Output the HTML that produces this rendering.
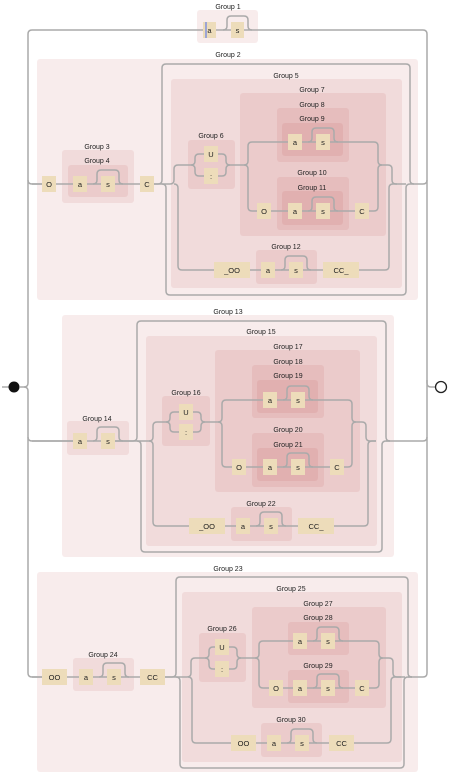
<!DOCTYPE html>
<html><head><meta charset="utf-8"><style>
html,body{margin:0;padding:0;background:#fff;width:451px;height:772px;overflow:hidden}
svg{display:block}
.g{fill:rgba(190,70,70,0.1)}
.l{fill:#222;font-family:"Liberation Sans",sans-serif;font-size:7px;text-anchor:middle}
.n{fill:#eddcba}
.t{fill:#222;font-family:"Liberation Sans",sans-serif;font-size:7.5px;text-anchor:middle}
path,line{fill:none;stroke:#aaa;stroke-width:1.5}
</style></head><body>
<svg width="451" height="772" viewBox="0 0 451 772" xmlns="http://www.w3.org/2000/svg">
<rect class="g" x="197" y="10" width="61" height="33" rx="3"/>
<rect class="g" x="37" y="59" width="381" height="241" rx="3"/>
<rect class="g" x="62" y="150" width="72" height="53" rx="3"/>
<rect class="g" x="68" y="165" width="60" height="32" rx="3"/>
<rect class="g" x="171" y="79" width="231" height="209" rx="3"/>
<rect class="g" x="188" y="140" width="47" height="49" rx="3"/>
<rect class="g" x="240" y="93" width="146" height="143" rx="3"/>
<rect class="g" x="277" y="108" width="72" height="54" rx="3"/>
<rect class="g" x="282" y="123" width="61" height="33" rx="3"/>
<rect class="g" x="277" y="177" width="72" height="53" rx="3"/>
<rect class="g" x="282" y="191" width="61" height="34" rx="3"/>
<rect class="g" x="256" y="250" width="61" height="34" rx="3"/>

<rect class="g" x="62" y="315" width="332" height="242" rx="3"/>
<rect class="g" x="67" y="421" width="62" height="34" rx="3"/>
<rect class="g" x="146" y="336" width="231" height="210" rx="3"/>
<rect class="g" x="162" y="396" width="48" height="50" rx="3"/>
<rect class="g" x="215" y="350" width="145" height="142" rx="3"/>
<rect class="g" x="252" y="365" width="72" height="53" rx="3"/>
<rect class="g" x="257" y="380" width="61" height="33" rx="3"/>
<rect class="g" x="252" y="433" width="72" height="54" rx="3"/>
<rect class="g" x="257" y="448" width="61" height="33" rx="3"/>
<rect class="g" x="231" y="507" width="61" height="34" rx="3"/>

<rect class="g" x="37" y="572" width="381" height="200" rx="3"/>
<rect class="g" x="73" y="658" width="61" height="33" rx="3"/>
<rect class="g" x="182" y="592" width="220" height="170" rx="3"/>
<rect class="g" x="199" y="633" width="47" height="49" rx="3"/>
<rect class="g" x="252" y="607" width="134" height="101" rx="3"/>
<rect class="g" x="288" y="622" width="61" height="33" rx="3"/>
<rect class="g" x="288" y="670" width="61" height="33" rx="3"/>
<rect class="g" x="261" y="723" width="61" height="34" rx="3"/>

<text class="l" x="228" y="9">Group 1</text>
<text class="l" x="228" y="57">Group 2</text>
<text class="l" x="97" y="149">Group 3</text>
<text class="l" x="97" y="163">Group 4</text>
<text class="l" x="286" y="78">Group 5</text>
<text class="l" x="211" y="138">Group 6</text>
<text class="l" x="312" y="92">Group 7</text>
<text class="l" x="312" y="107">Group 8</text>
<text class="l" x="312" y="121">Group 9</text>
<text class="l" x="312" y="175">Group 10</text>
<text class="l" x="312" y="190">Group 11</text>
<text class="l" x="286" y="249">Group 12</text>
<text class="l" x="228" y="314">Group 13</text>
<text class="l" x="97" y="421">Group 14</text>
<text class="l" x="261" y="334">Group 15</text>
<text class="l" x="186" y="395">Group 16</text>
<text class="l" x="288" y="349">Group 17</text>
<text class="l" x="288" y="364">Group 18</text>
<text class="l" x="288" y="378">Group 19</text>
<text class="l" x="288" y="432">Group 20</text>
<text class="l" x="288" y="447">Group 21</text>
<text class="l" x="261" y="506">Group 22</text>
<text class="l" x="228" y="571">Group 23</text>
<text class="l" x="103" y="657">Group 24</text>
<text class="l" x="291" y="591">Group 25</text>
<text class="l" x="222" y="631">Group 26</text>
<text class="l" x="318" y="606">Group 27</text>
<text class="l" x="318" y="620">Group 28</text>
<text class="l" x="318" y="668">Group 29</text>
<text class="l" x="291" y="722">Group 30</text>

<path d="M20,387 h4 q4 0 4-4 V34 q0-4 4-4 H423 q4 0 4 4 V383 q0 4 4 4 h4"/>
<path d="M427,380 V673"/>
<path d="M24,387 q4 0 4 4 V673 q0 4 4 4 h10"/>
<path d="M28,180 q0 4 4 4 h10"/>
<path d="M28,437 q0 4 4 4 h41"/>
<path d="M414,184 h9 q4 0 4-4"/>
<path d="M386,441 h37 q4 0 4-4"/>
<path d="M408,677 h15 q4 0 4-4"/>
<path d="M223,30 q4 0 4-4 v-6 q0-4 4-4 h13 q4 0 4 4 v6 q0 4 4 4"/>

<line x1="32" y1="184" x2="166" y2="184"/>
<path d="M93,184 q4 0 4-4 v-6 q0-4 4-4 h14 q4 0 4 4 v6 q0 4 4 4"/>
<path d="M154,184 h4 q4 0 4-4 V68 q0-4 4-4 H406 q4 0 4 4 V180 q0 4 4 4"/>
<path d="M162,184 q4 0 4 4 V291 q0 4 4 4 H402 q4 0 4-4 V188 q0-4 4-4 h4"/>
<path d="M166,184 h4 q4 0 4-4 v-11 q0-4 4-4 h13"/>
<path d="M174,184 q4 0 4 4 V266 q0 4 4 4 H359 h26 q4 0 4-4 V188 q0-4 4-4 h4"/>
<path d="M191,165 q4 0 4-4 v-3 q0-4 4-4 h19 h4 q4 0 4 4 v3 q0 4 4 4"/>
<path d="M191,165 q4 0 4 4 v3 q0 4 4 4 h19 h4 q4 0 4-4 v-3 q0-4 4-4 h14"/>
<path d="M244,165 q4 0 4-4 V146 q0-4 4-4 H374 q4 0 4 4 v15 q0 4 4 4 h6 q4 0 4 4 v11 q0 4 4 4 h10"/>
<path d="M244,165 q4 0 4 4 V207 q0 4 4 4 H374 q4 0 4-4 V169 q0-4 4-4"/>
<path d="M308,142 q4 0 4-4 v-6 q0-4 4-4 h14 q4 0 4 4 v6 q0 4 4 4"/>
<path d="M308,211 q4 0 4-4 v-6 q0-4 4-4 h14 q4 0 4 4 v6 q0 4 4 4"/>
<path d="M281,270 q4 0 4-4 v-6 q0-4 4-4 h14 q4 0 4 4 v6 q0 4 4 4"/>

<line x1="32" y1="441" x2="141" y2="441"/>
<path d="M93,441 q4 0 4-4 v-6 q0-4 4-4 h14 q4 0 4 4 v6 q0 4 4 4"/>
<path d="M115,441 h18 q4 0 4-4 V325 q0-4 4-4 H382 q4 0 4 4 V437 q0 4 4 4"/>
<path d="M137,441 q4 0 4 4 V548 q0 4 4 4 H378 q4 0 4-4 V445 q0-4 4-4 h4"/>
<path d="M141,441 h8 q4 0 4-4 v-11 q0-4 4-4 h9"/>
<path d="M149,441 q4 0 4 4 V522 q0 4 4 4 H364 q4 0 4-4 V445 q0-4 4-4 h4"/>
<path d="M166,422 q4 0 4-4 v-2 q0-4 4-4 h19 h4 q4 0 4 4 v2 q0 4 4 4"/>
<path d="M166,422 q4 0 4 4 v2 q0 4 4 4 h19 h4 q4 0 4-4 v-2 q0-4 4-4 h13"/>
<path d="M218,422 q4 0 4-4 V404 q0-4 4-4 H348 q4 0 4 4 v14 q0 4 4 4 h6 q4 0 4 4 v11 q0 4 4 4 h6"/>
<path d="M218,422 q4 0 4 4 V463 q0 4 4 4 H348 q4 0 4-4 V426 q0-4 4-4"/>
<path d="M283,400 q4 0 4-4 v-6 q0-4 4-4 h14 q4 0 4 4 v6 q0 4 4 4"/>
<path d="M283,467 q4 0 4-4 v-6 q0-4 4-4 h14 q4 0 4 4 v6 q0 4 4 4"/>
<path d="M256,526 q4 0 4-4 v-6 q0-4 4-4 h14 q4 0 4 4 v6 q0 4 4 4"/>

<line x1="32" y1="677" x2="180" y2="677"/>
<path d="M99,677 q4 0 4-4 v-6 q0-4 4-4 h14 q4 0 4 4 v6 q0 4 4 4"/>
<path d="M165,677 h7 q4 0 4-4 V581 q0-4 4-4 H404 q4 0 4 4 V673 q0 4 4 4"/>
<path d="M176,677 q4 0 4 4 V764 q0 4 4 4 H400 q4 0 4-4 V681 q0-4 4-4 h4"/>
<path d="M180,677 h7 q4 0 4-4 v-11 q0-4 4-4 h10"/>
<path d="M188,677 q4 0 4 4 V739 q0 4 4 4 H387 q4 0 4-4 V681 q0-4 4-4 h6"/>
<path d="M205,658 q4 0 4-4 v-3 q0-4 4-4 h2 h14 h4 q4 0 4 4 v3 q0 4 4 4"/>
<path d="M205,658 q4 0 4 4 v3 q0 4 4 4 h2 h14 h4 q4 0 4-4 v-3 q0-4 4-4 h14"/>
<path d="M255,658 q4 0 4-4 v-9 q0-4 4-4 H375 q4 0 4 4 v9 q0 4 4 4 h6 q4 0 4 4 v11 q0 4 4 4 h8"/>
<path d="M255,658 q4 0 4 4 v22 q0 4 4 4 H375 q4 0 4-4 v-22 q0-4 4-4"/>
<path d="M313,641 q4 0 4-4 v-6 q0-4 4-4 h14 q4 0 4 4 v6 q0 4 4 4"/>
<path d="M313,688 q4 0 4-4 v-6 q0-4 4-4 h14 q4 0 4 4 v6 q0 4 4 4"/>
<path d="M287,743 q4 0 4-4 v-6 q0-4 4-4 h14 q4 0 4 4 v6 q0 4 4 4"/>

<line x1="2" y1="387" x2="10" y2="387"/>
<circle cx="14" cy="387" r="5.5" fill="#111"/>
<circle cx="441" cy="387" r="5.5" fill="#fff" stroke="#222" stroke-width="1.3"/>

<g>
<rect class="n" x="203" y="22" width="13" height="16"/><text class="t" x="209.5" y="33">a</text>
<line x1="206" y1="22" x2="206" y2="38" style="stroke:#4a6cf0;stroke-width:1"/>
<rect class="n" x="231" y="22" width="13" height="16"/><text class="t" x="237.5" y="33">s</text>

<rect class="n" x="42" y="176" width="14" height="16"/><text class="t" x="49" y="187">O</text>
<rect class="n" x="73" y="176" width="14" height="16"/><text class="t" x="80" y="187">a</text>
<rect class="n" x="101" y="176" width="14" height="16"/><text class="t" x="108" y="187">s</text>
<rect class="n" x="140" y="176" width="14" height="16"/><text class="t" x="147" y="187">C</text>
<rect class="n" x="204" y="146" width="14" height="16"/><text class="t" x="211" y="157">U</text>
<rect class="n" x="204" y="168" width="14" height="16"/><text class="t" x="211" y="179">:</text>
<rect class="n" x="288" y="134" width="14" height="16"/><text class="t" x="295" y="145">a</text>
<rect class="n" x="316" y="134" width="14" height="16"/><text class="t" x="323" y="145">s</text>
<rect class="n" x="257" y="203" width="14" height="16"/><text class="t" x="264" y="214">O</text>
<rect class="n" x="288" y="203" width="14" height="16"/><text class="t" x="295" y="214">a</text>
<rect class="n" x="316" y="203" width="14" height="16"/><text class="t" x="323" y="214">s</text>
<rect class="n" x="355" y="203" width="14" height="16"/><text class="t" x="362" y="214">C</text>
<rect class="n" x="214" y="262" width="36" height="16"/><text class="t" x="232" y="273">_OO</text>
<rect class="n" x="261" y="262" width="14" height="16"/><text class="t" x="268" y="273">a</text>
<rect class="n" x="289" y="262" width="14" height="16"/><text class="t" x="296" y="273">s</text>
<rect class="n" x="323" y="262" width="36" height="16"/><text class="t" x="341" y="273">CC_</text>

<rect class="n" x="73" y="433" width="14" height="16"/><text class="t" x="80" y="444">a</text>
<rect class="n" x="101" y="433" width="14" height="16"/><text class="t" x="108" y="444">s</text>
<rect class="n" x="179" y="404" width="14" height="16"/><text class="t" x="186" y="415">U</text>
<rect class="n" x="179" y="424" width="14" height="16"/><text class="t" x="186" y="435">:</text>
<rect class="n" x="263" y="392" width="14" height="16"/><text class="t" x="270" y="403">a</text>
<rect class="n" x="291" y="392" width="14" height="16"/><text class="t" x="298" y="403">s</text>
<rect class="n" x="232" y="459" width="14" height="16"/><text class="t" x="239" y="470">O</text>
<rect class="n" x="263" y="459" width="14" height="16"/><text class="t" x="270" y="470">a</text>
<rect class="n" x="291" y="459" width="14" height="16"/><text class="t" x="298" y="470">s</text>
<rect class="n" x="330" y="459" width="14" height="16"/><text class="t" x="337" y="470">C</text>
<rect class="n" x="189" y="518" width="36" height="16"/><text class="t" x="207" y="529">_OO</text>
<rect class="n" x="236" y="518" width="14" height="16"/><text class="t" x="243" y="529">a</text>
<rect class="n" x="264" y="518" width="14" height="16"/><text class="t" x="271" y="529">s</text>
<rect class="n" x="298" y="518" width="36" height="16"/><text class="t" x="316" y="529">CC_</text>

<rect class="n" x="42" y="669" width="25" height="16"/><text class="t" x="54.5" y="680">OO</text>
<rect class="n" x="79" y="669" width="14" height="16"/><text class="t" x="86" y="680">a</text>
<rect class="n" x="107" y="669" width="14" height="16"/><text class="t" x="114" y="680">s</text>
<rect class="n" x="140" y="669" width="25" height="16"/><text class="t" x="152.5" y="680">CC</text>
<rect class="n" x="215" y="639" width="14" height="16"/><text class="t" x="222" y="650">U</text>
<rect class="n" x="215" y="661" width="14" height="16"/><text class="t" x="222" y="672">:</text>
<rect class="n" x="293" y="633" width="14" height="16"/><text class="t" x="300" y="644">a</text>
<rect class="n" x="321" y="633" width="14" height="16"/><text class="t" x="328" y="644">s</text>
<rect class="n" x="269" y="680" width="14" height="16"/><text class="t" x="276" y="691">O</text>
<rect class="n" x="293" y="680" width="14" height="16"/><text class="t" x="300" y="691">a</text>
<rect class="n" x="321" y="680" width="14" height="16"/><text class="t" x="328" y="691">s</text>
<rect class="n" x="355" y="680" width="14" height="16"/><text class="t" x="362" y="691">C</text>
<rect class="n" x="231" y="735" width="25" height="16"/><text class="t" x="243.5" y="746">OO</text>
<rect class="n" x="267" y="735" width="14" height="16"/><text class="t" x="274" y="746">a</text>
<rect class="n" x="295" y="735" width="14" height="16"/><text class="t" x="302" y="746">s</text>
<rect class="n" x="329" y="735" width="25" height="16"/><text class="t" x="341.5" y="746">CC</text>
</g>
</svg>
</body></html>
